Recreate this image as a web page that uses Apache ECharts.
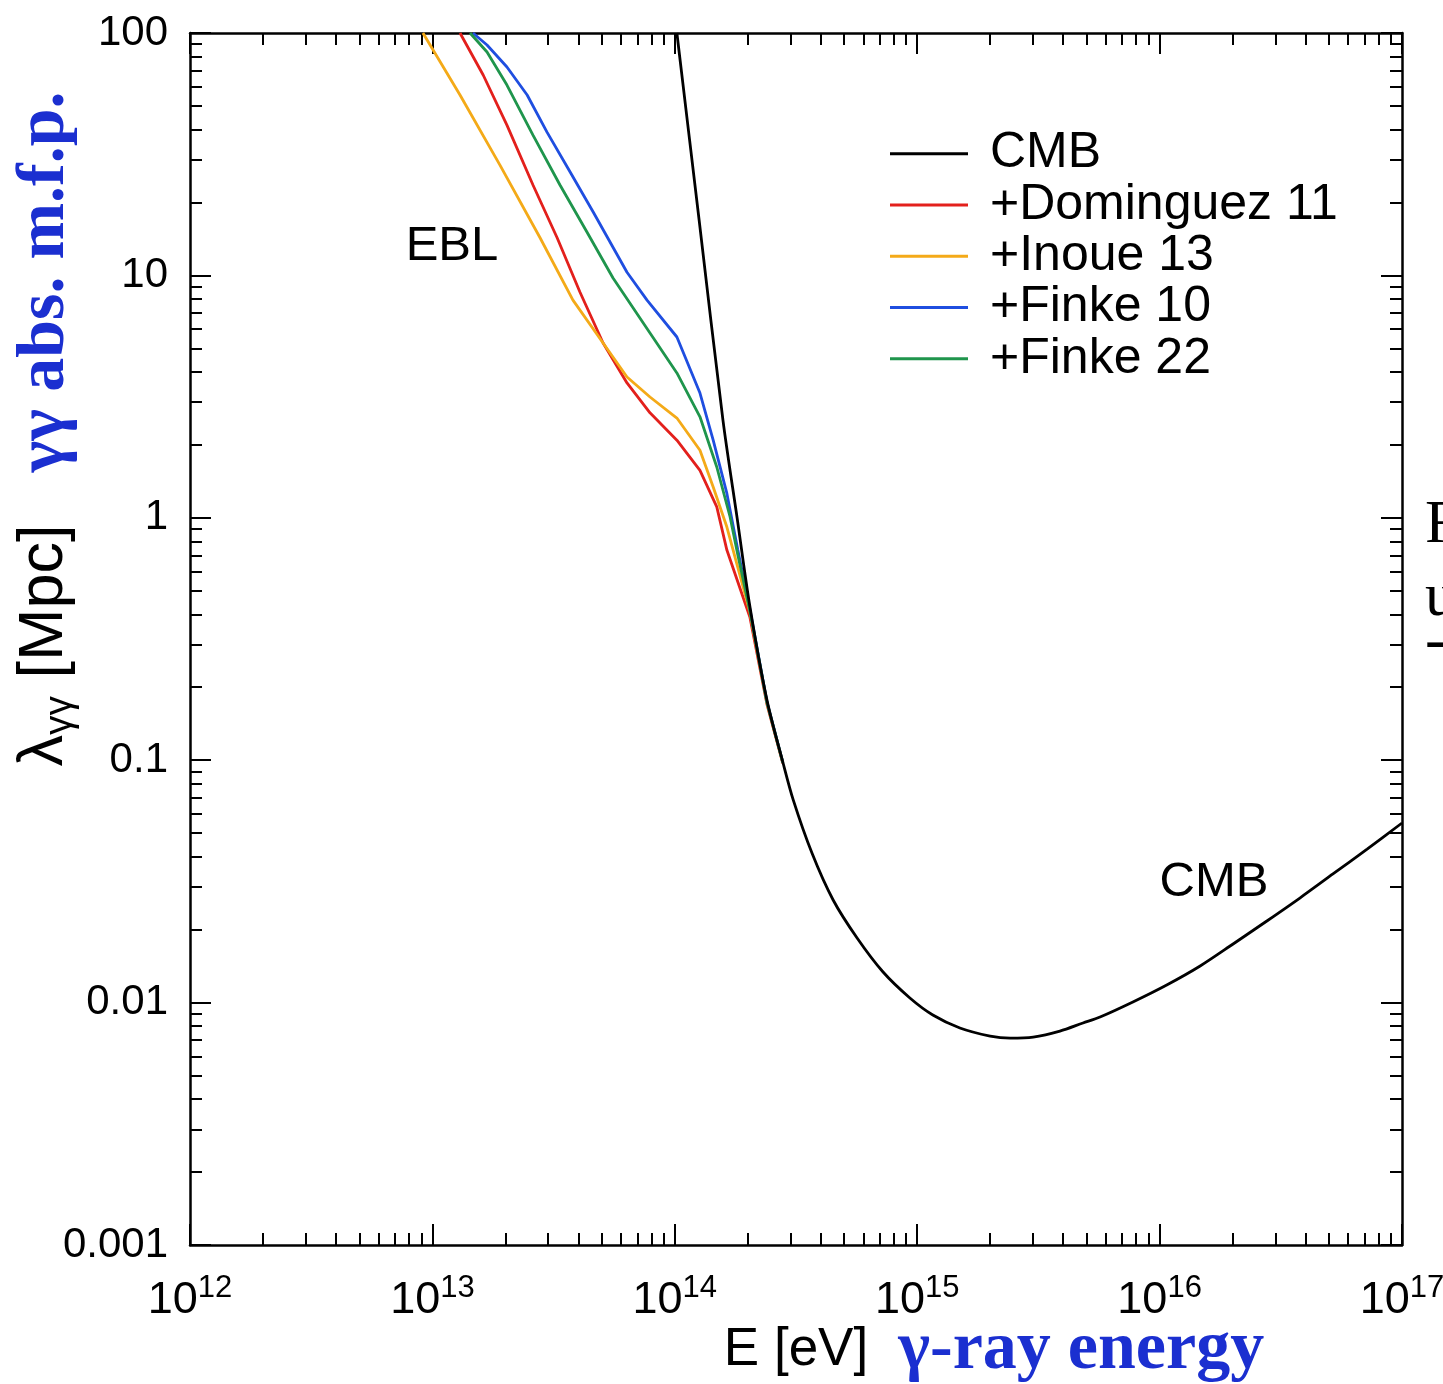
<!DOCTYPE html>
<html>
<head>
<meta charset="utf-8">
<script src="https://cdn.jsdelivr.net/npm/echarts@6/dist/echarts.min.js"></script>
<style>
  html, body { margin: 0; padding: 0; background: #ffffff; }
  #chart { width: 1443px; height: 1384px; }
</style>
</head>
<body>
<div id="chart"></div>
<script>
// Gamma-gamma absorption mean free path: photon energy E [eV] vs lambda [Mpc]

// CMB only
const cmbEnergy = [1.02e14, 1.26e14, 1.58e14, 1.81e14, 2.04e14, 2.40e14, 2.79e14, 3.08e14, 3.68e14, 4.50e14,
  5.65e14, 7.23e14, 9.33e14, 1.16e15, 1.50e15, 2.00e15, 2.42e15, 3.01e15, 3.88e15, 4.83e15,
  5.68e15, 7.76e15, 1.07e16, 1.47e16, 2.01e16, 2.77e16, 3.79e16, 5.19e16, 7.18e16, 1.00e17];
const cmbMfp = [100, 16.9, 2.53, 0.99, 0.432, 0.177, 0.0983, 0.0686, 0.0414, 0.0265,
  0.01847, 0.01337, 0.01045, 0.00889, 0.00786, 0.00728, 0.00714, 0.00721, 0.00763, 0.00824,
  0.00872, 0.01006, 0.01182, 0.01416, 0.01745, 0.02171, 0.0270, 0.03393, 0.04301, 0.05507];

// CMB + Dominguez et al. 2011 EBL
const dominguezEnergy = [1.30e13, 1.62e13, 2.03e13, 2.60e13, 3.27e13, 4.06e13, 5.06e13, 6.35e13, 7.90e13,
  1.02e14, 1.27e14, 1.49e14, 1.64e14, 2.04e14, 2.40e14, 2.79e14];
const dominguezMfp = [100, 67.1, 41.7, 23.6, 14.3, 8.54, 5.26, 3.60, 2.71, 2.09, 1.57, 1.11, 0.736, 0.39, 0.170, 0.097];

// CMB + Inoue et al. 2013 EBL
const inoueEnergy = [9.14e12, 1.30e13, 1.90e13, 2.78e13, 3.80e13, 5.06e13, 6.35e13, 7.90e13,
  1.02e14, 1.27e14, 1.44e14, 1.64e14, 2.04e14, 2.40e14, 2.79e14];
const inoueMfp = [100, 55.5, 28.5, 14.3, 7.91, 5.26, 3.81, 3.15, 2.58, 1.90, 1.34, 0.916, 0.409, 0.172, 0.0975];

// CMB + Finke et al. 2010 EBL
const finke10Energy = [1.47e13, 1.68e13, 2.03e13, 2.46e13, 2.97e13, 3.70e13, 4.60e13, 6.35e13, 7.68e13,
  1.02e14, 1.27e14, 1.44e14, 1.64e14, 1.82e14, 2.04e14, 2.40e14, 2.79e14];
const finke10Mfp = [100, 89.2, 72.4, 55.5, 39.0, 26.7, 18.3, 10.3, 7.91, 5.57, 3.27, 2.09, 1.26, 0.736, 0.42, 0.174, 0.098];

// CMB + Finke et al. 2022 EBL
const finke22Energy = [1.43e13, 1.68e13, 2.03e13, 2.60e13, 3.36e13, 4.34e13, 5.56e13, 7.90e13,
  1.02e14, 1.27e14, 1.49e14, 1.69e14, 1.82e14, 2.04e14, 2.40e14, 2.79e14];
const finke22Mfp = [100, 83.5, 61.0, 37.9, 23.6, 15.1, 9.76, 5.79, 3.96, 2.61, 1.62, 1.01, 0.703, 0.414, 0.173, 0.0978];

// Axis decades and tick labels
const xExponents = [12, 13, 14, 15, 16, 17];
const yExponents = [-3, -2, -1, 0, 1, 2];
const yTickLabels = ['0.001', '0.01', '0.1', '1', '10', '100'];
const minorFactors = [2, 3, 4, 5, 6, 7, 8, 9];

const SANS = '"Liberation Sans", Arial, Helvetica, sans-serif';
const SERIF = '"Liberation Serif", "Times New Roman", serif';
const BLUE = '#1b2fd0';

function pairs(xs, ys) { return xs.map((x, i) => [x, ys[i]]); }
function majors(exps) { return exps.map(e => Math.pow(10, e)); }
function minors(exps) {
  const out = [];
  for (let i = 0; i < exps.length - 1; i++) {
    const d = Math.pow(10, exps[i]);
    minorFactors.forEach(f => out.push(+(f * d).toPrecision(6)));
  }
  return out;
}

const xMajor = majors(xExponents), xMinor = minors(xExponents);
const yMajor = majors(yExponents), yMinor = minors(yExponents);
const xMin = xMajor[0], xMax = xMajor[xMajor.length - 1];
const yMin = yMajor[0], yMax = yMajor[yMajor.length - 1];

const frame = { show: true, lineStyle: { color: '#000', width: 2.5 } };
const tickStyle = { color: '#000', width: 2 };

function tickAxis(base, position, values, length, withLine) {
  return Object.assign({
    type: 'log', logBase: 10, position: position,
    axisLine: withLine ? frame : { show: false },
    axisTick: { show: true, inside: true, length: length, lineStyle: tickStyle, customValues: values },
    axisLabel: { show: false },
    splitLine: { show: false },
    silent: true
  }, base);
}

const xRange = { min: xMin, max: xMax };
const yRange = { min: yMin, max: yMax };

const xMain = tickAxis(xRange, 'bottom', xMajor, 21, true);
xMain.axisLabel = {
  show: true, customValues: xMajor, margin: 28,
  formatter: v => '{b|10}{s|' + xExponents[Math.round(Math.log10(v)) - xExponents[0]] + '}',
  rich: {
    b: { fontFamily: SANS, fontSize: 45, color: '#000', lineHeight: 56 },
    s: { fontFamily: SANS, fontSize: 31, color: '#000', lineHeight: 10, verticalAlign: 'top' }
  }
};
xMain.name = '{e|E [eV]}{gap|}{b|\u03b3-ray energy}';
xMain.nameLocation = 'middle';
xMain.nameGap = 70;
xMain.nameMoveOverlap = false;
xMain.nameTextStyle = {
  padding: [0, 0, 0, 396],
  rich: {
    e: { fontFamily: SANS, fontSize: 53, color: '#000', lineHeight: 70 },
    gap: { width: 30 },
    b: { fontFamily: SERIF, fontWeight: 'bold', fontSize: 68, color: BLUE, lineHeight: 70 }
  }
};

const yMain = tickAxis(yRange, 'left', yMajor, 21, true);
yMain.axisLabel = {
  show: true, customValues: yMajor, margin: 22,
  fontFamily: SANS, fontSize: 42, color: '#000',
  formatter: v => yTickLabels[Math.round(Math.log10(v)) - yExponents[0]]
};
yMain.name = '{l|\u03bb}{sub|\u03b3\u03b3}{l| [Mpc]}{gap|}{b|\u03b3\u03b3 abs. m.f.p.}';
yMain.nameLocation = 'middle';
yMain.nameGap = 110;
yMain.nameMoveOverlap = false;
yMain.nameTextStyle = {
  padding: [0, 0, 0, 420],
  rich: {
    l: { fontFamily: SANS, fontSize: 63, color: '#000', lineHeight: 70 },
    sub: { fontFamily: SANS, fontSize: 39, color: '#000', lineHeight: 26, verticalAlign: 'bottom' },
    gap: { width: 52 },
    b: { fontFamily: SERIF, fontWeight: 'bold', fontSize: 68, color: BLUE, lineHeight: 70 }
  }
};

function lineSeries(name, color, data, extra) {
  return Object.assign({
    name: name, type: 'line', data: data,
    xAxisIndex: 0, yAxisIndex: 0,
    symbol: 'none', showSymbol: false,
    lineStyle: { color: color, width: 2.8 },
    itemStyle: { color: color },
    emphasis: { disabled: true },
    animation: false
  }, extra || {});
}

const option = {
  backgroundColor: '#ffffff',
  animation: false,
  grid: { left: 190, right: 41, top: 33, bottom: 139, containLabel: false, outerBoundsMode: 'none' },
  xAxis: [
    xMain,
    tickAxis(xRange, 'bottom', xMinor, 12, false),
    tickAxis(xRange, 'top', xMajor, 21, true),
    tickAxis(xRange, 'top', xMinor, 12, false)
  ],
  yAxis: [
    yMain,
    tickAxis(yRange, 'left', yMinor, 12, false),
    tickAxis(yRange, 'right', yMajor, 21, true),
    tickAxis(yRange, 'right', yMinor, 12, false)
  ],
  legend: {
    left: 890, top: 128, orient: 'vertical', padding: 0,
    icon: 'rect', itemWidth: 78, itemHeight: 3, itemGap: 0,
    data: ['CMB', '+Dominguez 11', '+Inoue 13', '+Finke 10', '+Finke 22'],
    textStyle: { fontFamily: SANS, fontSize: 50, color: '#000', lineHeight: 51.3, padding: [0, 0, 0, 17] },
    selectedMode: false
  },
  series: [
    lineSeries('+Dominguez 11', '#e3201c', pairs(dominguezEnergy, dominguezMfp)),
    lineSeries('+Inoue 13', '#f4aa18', pairs(inoueEnergy, inoueMfp)),
    lineSeries('+Finke 10', '#1f4ee0', pairs(finke10Energy, finke10Mfp)),
    lineSeries('+Finke 22', '#1f954c', pairs(finke22Energy, finke22Mfp)),
    lineSeries('CMB', '#000000', pairs(cmbEnergy, cmbMfp), { smooth: 0.3, z: 5 })
  ],
  graphic: [
    { type: 'text', x: 452, y: 246, silent: true,
      style: { text: 'EBL', fontFamily: SANS, fontSize: 49, fill: '#000', align: 'center', verticalAlign: 'middle' } },
    { type: 'text', x: 1214, y: 882, silent: true,
      style: { text: 'CMB', fontFamily: SANS, fontSize: 49, fill: '#000', align: 'center', verticalAlign: 'middle' } },
    { type: 'text', x: 1425, y: 526, silent: true,
      style: { text: 'F', fontFamily: SERIF, fontSize: 62, fill: '#000', align: 'left', verticalAlign: 'middle' } },
    { type: 'text', x: 1425, y: 599, silent: true,
      style: { text: 'u', fontFamily: SERIF, fontSize: 62, fill: '#000', align: 'left', verticalAlign: 'middle' } },
    { type: 'text', x: 1425, y: 643, silent: true,
      style: { text: '-', fontFamily: SERIF, fontSize: 62, fill: '#000', align: 'left', verticalAlign: 'middle' } }
  ]
};

const chart = echarts.init(document.getElementById('chart'), null, { renderer: 'canvas' });
chart.setOption(option);
</script>
</body>
</html>
